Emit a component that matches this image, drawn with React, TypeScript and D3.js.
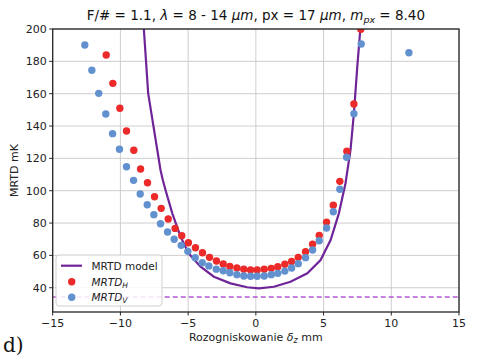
import React from "react";
import * as d3 from "d3";

// MRTD_H (red)
const hX = [-11.05, -10.56, -10.04, -9.55, -9.01, -8.51, -8.0, -7.48, -6.99, -6.47, -5.96, -5.47, -4.98, -4.46, -3.94, -3.42, -2.91, -2.41, -1.92, -1.4, -0.89, -0.39, 0.1, 0.62, 1.14, 1.62, 2.14, 2.64, 3.13, 3.67, 4.19, 4.68, 5.22, 5.72, 6.2, 6.72, 7.24, 7.75];
const hY = [183.9, 166.4, 151.0, 136.9, 125.0, 113.4, 104.9, 96.3, 89.1, 82.5, 76.7, 72.2, 67.8, 64.7, 61.6, 58.8, 56.5, 54.7, 53.2, 52.2, 51.4, 51.0, 51.0, 51.4, 52.0, 53.0, 54.5, 56.3, 58.8, 62.3, 66.9, 72.4, 80.6, 91.0, 105.8, 124.4, 153.6, 199.8];

// MRTD_V (blue)
const vX = [-12.63, -12.11, -11.6, -11.08, -10.58, -10.07, -9.55, -9.03, -8.54, -8.02, -7.53, -7.04, -6.52, -6.03, -5.51, -5.02, -4.48, -3.96, -3.47, -2.92, -2.41, -1.92, -1.4, -0.89, -0.39, 0.1, 0.62, 1.14, 1.62, 2.14, 2.64, 3.13, 3.67, 4.19, 4.68, 5.22, 5.72, 6.2, 6.7, 7.24, 7.78, 11.3];
const vY = [190.1, 174.5, 160.2, 147.4, 135.3, 125.6, 114.8, 106.4, 98.0, 91.3, 85.2, 79.6, 74.5, 70.0, 66.2, 62.5, 58.6, 55.5, 53.5, 51.5, 50.5, 49.3, 48.1, 47.3, 47.1, 47.1, 47.3, 48.1, 48.9, 50.3, 52.2, 54.9, 58.6, 63.3, 69.1, 76.9, 87.0, 100.9, 120.7, 147.6, 190.7, 185.3];

// MRTD model (line)
const mX = [-8.45, -8.27, -7.95, -7.04, -6.87, -6.67, -6.17, -5.56, -4.97, -4.08, -3.1, -1.87, -0.64, 0.22, 1.33, 2.56, 3.8, 4.78, 5.52, 6.13, 6.62, 6.99, 7.24, 7.49, 7.73, 7.9];
const mY = [222, 200, 160.2, 112.8, 106.6, 100.4, 86.0, 71.6, 61.3, 53.0, 46.8, 42.7, 40.3, 39.6, 40.6, 43.7, 48.9, 57.1, 69.5, 86.0, 104.6, 125.2, 147.9, 176.7, 201.4, 215];

const noiseLevel = 34.3;
const xTicks = [-15, -10, -5, 0, 5, 10, 15];
const yTicks = [40, 60, 80, 100, 120, 140, 160, 180, 200];

const RED = "#ec2a2a";
const BLUE = "#6291d0";
const PURPLE = "#6f2597";
const DASH = "#b35ad0";
const FONT = "DejaVu Sans, sans-serif";

export default function App() {
  const W = 477, H = 358;
  const L = 52.7, R = 459, T = 29, B = 312;
  const x = d3.scaleLinear().domain([-15, 15]).range([L, R]);
  const y = d3.scaleLinear().domain([25, 200]).range([B, T]);
  const line = d3.line<number>().x((_, i) => x(mX[i])).y((_, i) => y(mY[i]));
  const fmt = (v: number) => (v < 0 ? "\u2212" + Math.abs(v) : String(v));
  const r = 3.7;

  return (
    <svg width={W} height={H} style={{ position: "absolute", left: 0, top: 0, background: "#fff" }}>
      <defs>
        <clipPath id="plot">
          <rect x={L} y={T} width={R - L} height={B - T} />
        </clipPath>
      </defs>
      <rect x={0} y={0} width={W} height={H} fill="#fff" />
      {/* grid */}
      {xTicks.map((t) => (
        <line key={"gx" + t} x1={x(t)} x2={x(t)} y1={T} y2={B} stroke="#c8c8c8" strokeWidth={0.9} />
      ))}
      {yTicks.map((t) => (
        <line key={"gy" + t} x1={L} x2={R} y1={y(t)} y2={y(t)} stroke="#c8c8c8" strokeWidth={0.9} />
      ))}
      <g clipPath="url(#plot)">
        <line x1={L} x2={R} y1={y(noiseLevel)} y2={y(noiseLevel)} stroke={DASH} strokeWidth={1.4} strokeDasharray="5,3" />
        <path d={line(mX) || ""} fill="none" stroke={PURPLE} strokeWidth={2.2} />
        {hX.map((v, i) => (
          <circle key={"h" + i} cx={x(v)} cy={y(hY[i])} r={r} fill={RED} />
        ))}
        {vX.map((v, i) => (
          <circle key={"v" + i} cx={x(v)} cy={y(vY[i])} r={r} fill={BLUE} />
        ))}
      </g>
      {/* frame */}
      <rect x={L} y={T} width={R - L} height={B - T} fill="none" stroke="#262626" strokeWidth={1.3} />
      {/* ticks */}
      {xTicks.map((t) => (
        <g key={"tx" + t}>
          <line x1={x(t)} x2={x(t)} y1={B} y2={B + 3.5} stroke="#262626" strokeWidth={1} />
          <text x={x(t)} y={B + 15} textAnchor="middle" fontSize={11} fontFamily={FONT} fill="#222">
            {fmt(t)}
          </text>
        </g>
      ))}
      {yTicks.map((t) => (
        <g key={"ty" + t}>
          <line x1={L - 3.5} x2={L} y1={y(t)} y2={y(t)} stroke="#262626" strokeWidth={1} />
          <text x={L - 6} y={y(t) + 4} textAnchor="end" fontSize={11} fontFamily={FONT} fill="#222">
            {t}
          </text>
        </g>
      ))}
      {/* title */}
      <text x={(L + R) / 2} y={20} textAnchor="middle" fontSize={13.5} fontFamily={FONT} fill="#111">
        <tspan>F/# = 1.1, </tspan>
        <tspan fontStyle="italic">λ</tspan>
        <tspan> = 8 - 14 </tspan>
        <tspan fontStyle="italic">μm</tspan>
        <tspan>, px = 17 </tspan>
        <tspan fontStyle="italic">μm</tspan>
        <tspan>, </tspan>
        <tspan fontStyle="italic">m</tspan>
        <tspan fontStyle="italic" fontSize={9.5} dy={3}>px</tspan>
        <tspan dy={-3}> = 8.40</tspan>
      </text>
      {/* axis labels */}
      <text x={(L + R) / 2} y={341} textAnchor="middle" fontSize={11} fontFamily={FONT} fill="#222">
        <tspan>Rozogniskowanie </tspan>
        <tspan fontStyle="italic">δ</tspan>
        <tspan fontStyle="italic" fontSize={8} dy={2}>z</tspan>
        <tspan dy={-2}> mm</tspan>
      </text>
      <text transform={`translate(18,${(T + B) / 2}) rotate(-90)`} textAnchor="middle" fontSize={11} fontFamily={FONT} fill="#222">
        MRTD mK
      </text>
      {/* legend */}
      <g>
        <rect x={56} y={255} width={106} height={51} rx={3} fill="#fff" fillOpacity={0.85} stroke="#d0d0d0" strokeWidth={1} />
        <line x1={61} x2={82} y1={265.7} y2={265.7} stroke={PURPLE} strokeWidth={2.2} />
        <text x={91.5} y={269.5} fontSize={10.5} fontFamily={FONT} fill="#222">MRTD model</text>
        <circle cx={71.7} cy={281.7} r={r} fill={RED} />
        <text x={91.5} y={285.5} fontSize={10.5} fontFamily={FONT} fill="#222">
          <tspan fontStyle="italic">MRTD</tspan>
          <tspan fontStyle="italic" fontSize={7.5} dy={2}>H</tspan>
        </text>
        <circle cx={71.7} cy={297.3} r={r} fill={BLUE} />
        <text x={91.5} y={301} fontSize={10.5} fontFamily={FONT} fill="#222">
          <tspan fontStyle="italic">MRTD</tspan>
          <tspan fontStyle="italic" fontSize={7.5} dy={2}>V</tspan>
        </text>
      </g>
      {/* panel label */}
      <text x={3} y={352} fontSize={20} fontFamily="DejaVu Serif, Liberation Serif, serif" fill="#111">d)</text>
    </svg>
  );
}
